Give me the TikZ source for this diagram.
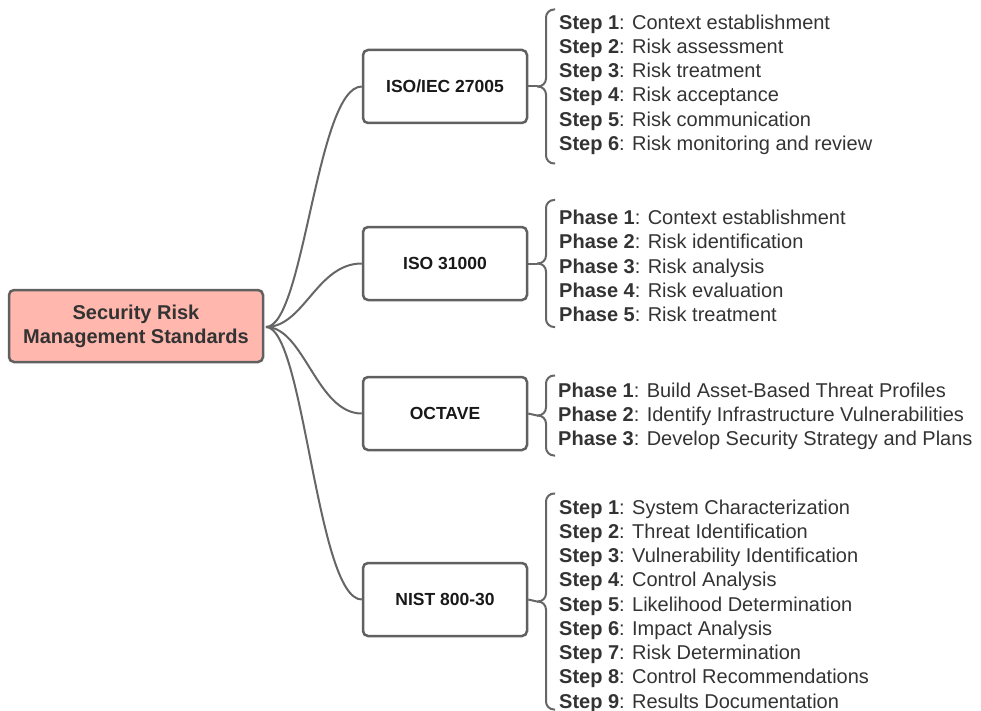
\documentclass[tikz,border=0pt]{standalone}
\usepackage{fontspec}
\setmainfont{Liberation Sans}
\definecolor{edgegray}{HTML}{606060}
\definecolor{linegray}{HTML}{666666}
\definecolor{rootfill}{RGB}{255,183,174}
\definecolor{txt}{HTML}{333333}
\tikzset{
  rootbox/.style={draw=edgegray, line width=2.5pt, rounded corners=5pt, fill=rootfill,
    minimum width=254pt, minimum height=72pt, align=center, text=txt,
    font=\fontsize{20}{24}\selectfont\bfseries, inner sep=0pt},
  stdbox/.style={draw=edgegray, line width=2.5pt, rounded corners=5pt, fill=white,
    minimum width=164pt, minimum height=73pt, align=center, text=black!90,
    font=\fontsize{17.5}{21}\selectfont\bfseries, inner sep=0pt},
  conn/.style={draw=linegray, line width=2pt},
  bracep/.style={draw=linegray, line width=2pt, rounded corners=8pt},
  itemlist/.style={anchor=west, align=left, text=txt, inner sep=0pt,
    font=\fontsize{20}{24.25}\selectfont},
}
\begin{document}
\begin{tikzpicture}[x=1pt,y=-1pt]
\useasboundingbox (0,0) rectangle (981,711);

\node[rootbox] (root) at (136,326) {Security Risk\\Management Standards};

\node[stdbox] (s1) at (445,86.5) {ISO/IEC 27005};
\node[stdbox] (s2) at (445,263.5) {ISO 31000};
\node[stdbox] (s3) at (445,413.5) {OCTAVE};
\node[stdbox] (s4) at (445,599.5) {NIST 800-30};

\coordinate (rs) at (266,327);
\foreach \s in {s1,s2,s3,s4}{
  \draw[conn] (rs) .. controls +(38,0) and +(-45,0) .. (\s.west);
}

% braces
\newcommand{\mybrace}[4]{% name, cy, half height, box
  \coordinate (#1tip) at (537,#2);
  \draw[conn] (#4.east) -- (#1tip);
  \draw[bracep] (555,#2-#3) -- (546,#2-#3) -- (546,#2) -- (#1tip);
  \draw[bracep] (555,#2+#3) -- (546,#2+#3) -- (546,#2) -- (#1tip);
}
\mybrace{b1}{86.5}{77}{s1}
\mybrace{b2}{263.5}{63.5}{s2}
\mybrace{b3}{415.5}{40}{s3}
\mybrace{b4}{601.5}{108}{s4}

\node[itemlist] (l1) at (559,84.5) {%
\textbf{Step 1}: Context establishment\\
\textbf{Step 2}: Risk assessment\\
\textbf{Step 3}: Risk treatment\\
\textbf{Step 4}: Risk acceptance\\
\textbf{Step 5}: Risk communication\\
\textbf{Step 6}: Risk monitoring and review};

\node[itemlist] (l2) at (559,266) {%
\textbf{Phase 1}: Context establishment\\
\textbf{Phase 2}: Risk identification\\
\textbf{Phase 3}: Risk analysis\\
\textbf{Phase 4}: Risk evaluation\\
\textbf{Phase 5}: Risk treatment};

\node[itemlist] (l3) at (558,416.5) {%
\textbf{Phase 1}: Build Asset-Based Threat Profiles\\
\textbf{Phase 2}: Identify Infrastructure Vulnerabilities\\
\textbf{Phase 3}: Develop Security Strategy and Plans};

\node[itemlist] (l4) at (559,606) {%
\textbf{Step 1}: System Characterization\\
\textbf{Step 2}: Threat Identification\\
\textbf{Step 3}: Vulnerability Identification\\
\textbf{Step 4}: Control Analysis\\
\textbf{Step 5}: Likelihood Determination\\
\textbf{Step 6}: Impact Analysis\\
\textbf{Step 7}: Risk Determination\\
\textbf{Step 8}: Control Recommendations\\
\textbf{Step 9}: Results Documentation};
\end{tikzpicture}
\end{document}
